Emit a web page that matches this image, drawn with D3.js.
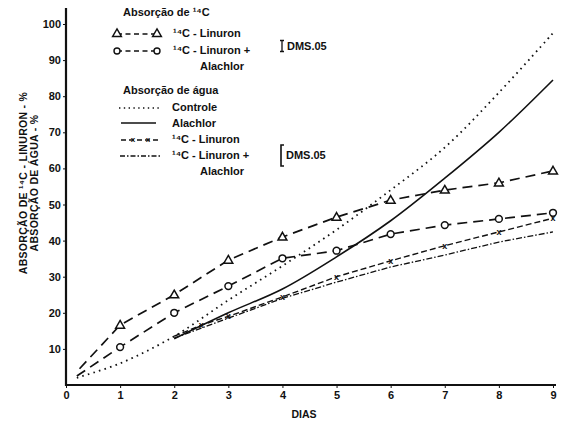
<!DOCTYPE html>
<html><head><meta charset="utf-8">
<script src="https://cdn.jsdelivr.net/npm/d3@7"></script>
<style>
body{margin:0;background:#fff;}
text{font-family:"Liberation Sans",Arial,sans-serif;font-weight:bold;fill:#111;}
</style></head>
<body><svg id="c" width="568" height="428"></svg>
<script>
// Data (days, %)
const linuron14C = [[0.25,4.5],[1,16.6],[2,25],[3,34.6],[4,41],[5,46.5],[6,51.2],[7,54],[8,56],[9,59.3]];
const linuronAlachlor14C = [[0.2,2.5],[1,10.5],[2,20],[3,27.4],[4,35.1],[5,37.2],[6,41.8],[7,44.3],[8,46],[9,47.7]];
const controle = [[0.2,2],[1,6],[2,13.5],[3,23.5],[4,33],[5,43],[6,54],[7,65.8],[8,81],[9,97.5]];
const alachlor = [[2,12.8],[3,20],[4,26.6],[5,35.5],[6,45.5],[7,57.3],[8,70],[9,84.5]];
const linuronAgua = [[2,13.5],[2.5,16.6],[3,19],[4,24.4],[5,30],[6,34.4],[7,38.6],[8,42.4],[9,46.2]];
const linuronAlachlorAgua = [[2,13],[3,18.5],[4,24],[5,28.5],[6,32.7],[7,36],[8,39.6],[9,42.4]];
const xTicks = [0,1,2,3,4,5,6,7,8,9];
const yTicks = [10,20,30,40,50,60,70,80,90,100];

const svg = d3.select("#c");
const x = d3.scaleLinear().domain([0,9]).range([66,553]);
const y = d3.scaleLinear().domain([0,100]).range([385,24]);

// axes
svg.append("line").attr("x1",66).attr("x2",66).attr("y1",8).attr("y2",386).attr("stroke","#111").attr("stroke-width",2.2);
svg.append("line").attr("x1",65).attr("x2",556).attr("y1",385).attr("y2",385).attr("stroke","#111").attr("stroke-width",2.2);

const yAxis = d3.axisLeft(y).tickValues(yTicks).tickSize(3).tickPadding(2);
const gy = svg.append("g").attr("transform","translate(66,0)").call(yAxis);
gy.select(".domain").remove();
gy.selectAll("text").style("font-size","11px").style("font-weight","bold").style("font-family","Liberation Sans, Arial, sans-serif").attr("fill","#111");
gy.selectAll("line").attr("stroke","#111");

const xAxis = d3.axisBottom(x).tickValues(xTicks).tickSize(3).tickPadding(3);
const gx = svg.append("g").attr("transform","translate(0,385)").call(xAxis);
gx.select(".domain").remove();
gx.selectAll("text").style("font-size","11px").style("font-weight","bold").style("font-family","Liberation Sans, Arial, sans-serif").attr("fill","#111");
gx.selectAll("line").attr("stroke","#111");

svg.append("text").attr("x",304).attr("y",418).attr("text-anchor","middle").style("font-size","10.5px").text("DIAS");

// y label
const yl = svg.append("text").attr("transform","translate(27,183) rotate(-90)").attr("text-anchor","middle").style("font-size","10.5px").style("letter-spacing","0.3px");
yl.append("tspan").attr("x",0).attr("dy",0).text("ABSORÇÃO DE ¹⁴C - LINURON - %");
yl.append("tspan").attr("x",0).attr("dy",11).text("ABSORÇÃO DE ÁGUA - %");

const curved = d3.line().x(d=>x(d[0])).y(d=>y(d[1])).curve(d3.curveCatmullRom.alpha(0.5));
const straight = d3.line().x(d=>x(d[0])).y(d=>y(d[1])).curve(d3.curveLinear);

function path(data, gen, dash, w){
  svg.append("path").attr("d",gen(data)).attr("fill","none").attr("stroke","#111")
    .attr("stroke-width",w).attr("stroke-dasharray",dash);
}
path(controle,curved,"1.6,4.2",1.8);
path(alachlor,curved,null,1.6);
path(linuronAgua,straight,"6,3",1.4);
path(linuronAlachlorAgua,straight,"6,2,1.5,2",1.3);
path(linuron14C,straight,"10,6",1.7);
path(linuronAlachlor14C,straight,"10,6",1.7);

const tri = d3.symbol().type(d3.symbolTriangle).size(34);
function triangles(data){
  svg.append("g").selectAll("path").data(data.slice(1)).join("path")
   .attr("d",tri).attr("transform",d=>`translate(${x(d[0])},${y(d[1])+0.5})`)
   .attr("fill","#fff").attr("stroke","#111").attr("stroke-width",1.5);
}
function circles(data){
  svg.append("g").selectAll("circle").data(data.slice(1)).join("circle")
   .attr("cx",d=>x(d[0])).attr("cy",d=>y(d[1])).attr("r",3.4)
   .attr("fill","#fff").attr("stroke","#111").attr("stroke-width",1.5);
}
function crosses(data){
  svg.append("g").selectAll("text").data(data.slice(1)).join("text")
   .attr("x",d=>x(d[0])).attr("y",d=>y(d[1])+3).attr("text-anchor","middle")
   .style("font-size","9px").text("x");
}
triangles(linuron14C);
circles(linuronAlachlor14C);
crosses(linuronAgua);

// legend
const lg = svg.append("g");
function txt(t,xx,yy){ lg.append("text").attr("x",xx).attr("y",yy).style("font-size","11px").text(t); }
txt("Absorção de ¹⁴C",123,16);
function sample(x1,x2,yy,dash){
  lg.append("line").attr("x1",x1).attr("x2",x2).attr("y1",yy).attr("y2",yy).attr("stroke","#111")
   .attr("stroke-width",1.5).attr("stroke-dasharray",dash);
}
sample(117,157,34,"5,3.5");
lg.selectAll(".lt").data([117,157]).join("path").attr("d",tri).attr("transform",d=>`translate(${d},34)`).attr("fill","#fff").attr("stroke","#111").attr("stroke-width",1.4);
txt("¹⁴C - Linuron",173,37);
sample(117,157,51,"5,3.5");
lg.selectAll(".lc").data([117,157]).join("circle").attr("cx",d=>d).attr("cy",51).attr("r",3).attr("fill","#fff").attr("stroke","#111").attr("stroke-width",1.4);
txt("¹⁴C - Linuron +",173,54);
txt("Alachlor",200,70);
txt("Absorção de água",123,94);
sample(119,161,108,"1.4,3.4");
txt("Controle",172,111);
sample(121,156,123,null);
txt("Alachlor",172,127);
sample(121,160,140,"5,3");
lg.selectAll(".lx").data([133,148]).join("text").attr("x",d=>d).attr("y",142).attr("text-anchor","middle").style("font-size","8px").text("x");
txt("¹⁴C - Linuron",172,143);
sample(120,161,156,"5,2,1.5,2");
txt("¹⁴C - Linuron +",172,159);
txt("Alachlor",200,175);

// DMS bars
lg.append("path").attr("d","M280,40.5H284M282,40.5V51.5M280,51.5H284").attr("stroke","#111").attr("stroke-width",1.3).attr("fill","none");
txt("DMS.05",287,50);
lg.append("path").attr("d","M284,145H281V166H284").attr("stroke","#111").attr("stroke-width",1.6).attr("fill","none");
txt("DMS.05",286,159);
</script></body></html>
